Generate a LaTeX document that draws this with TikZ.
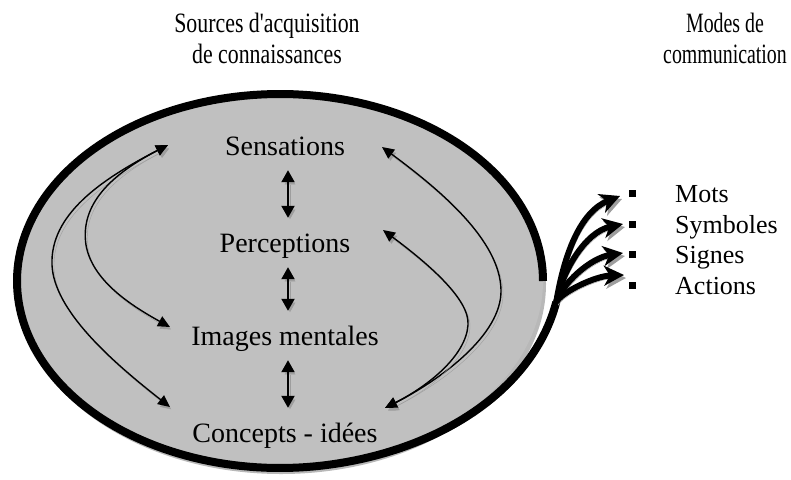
\documentclass[tikz,border=0pt]{standalone}
\usepackage{fontspec}
\setmainfont{Liberation Serif}
\newfontfamily\condfont[FakeStretch=0.78]{Liberation Serif}
\newfontfamily\narrowfont[FakeStretch=0.71]{Liberation Serif}
\usetikzlibrary{arrows.meta}
\definecolor{fillgray}{HTML}{C0C0C0}
\definecolor{shadowgray}{HTML}{9E9E9E}
\definecolor{lightshadow}{HTML}{B8B8B8}
\tikzset{
  shadowed/.style={preaction={draw=shadowgray, transform canvas={shift={(2pt,-3pt)}}}},
  lbl/.style={font=\fontsize{28}{32}\selectfont, inner sep=0pt, anchor=base, text height=19pt, text depth=6pt},
  title/.style={font=\condfont\fontsize{28}{31}\selectfont, align=center, inner sep=0pt},
  title2/.style={font=\narrowfont\fontsize{28}{31}\selectfont, align=center, inner sep=0pt},
  item/.style={font=\fontsize{26}{30}\selectfont, inner sep=0pt, anchor=base west},
  bullet/.style={fill=black, minimum size=7pt, inner sep=0pt},
  dbl/.style={line width=2pt, {Triangle[length=12pt,width=13pt]}-{Triangle[length=12pt,width=13pt]}, shorten <=9pt, shorten >=15pt, shadowed},
  thinarrow/.style={line width=1.4pt, {Triangle[length=12pt,width=11pt]}-{Triangle[length=12pt,width=11pt]}, shadowed},
  fan/.style={line width=6pt, -{Stealth[length=20pt,width=20pt,inset=6pt]}, shadowed},
  border/.style={line width=8pt, shadowed},
  declare function={dd(\t)=(\t>280)*14*((\t-280)/72)^2;}
}
\begin{document}
\begin{tikzpicture}[x=1pt,y=-1pt]
\useasboundingbox (0,0) rectangle (791,479);
% ellipse fill with shadow
\fill[lightshadow] (281,284) ellipse [x radius=265, y radius=190];
\fill[fillgray] (280,281) ellipse [x radius=263, y radius=187];
% spiral border
\draw[border] plot[domain=0:354, samples=200] ({280+(263+dd(\x))*cos(\x)}, {281-(187+dd(\x))*sin(\x)});
\coordinate (base) at ({280+(263+dd(354))*cos(354)}, {281-(187+dd(354))*sin(354)});

% titles
\node[title] (src) at (267,38) {Sources d'acquisition\\de connaissances};
\node[title2] (modes) at (725,38) {Modes de\\communication};

% inner labels
\node[lbl] (sens) at (285,155) {Sensations};
\node[lbl] (perc) at (285,252) {Perceptions};
\node[lbl] (imag) at (285,345) {Images mentales};
\node[lbl] (conc) at (285,442) {Concepts - idées};

\draw[dbl] ([xshift=3pt]sens.south) -- ([xshift=3pt]perc.north);
\draw[dbl] ([xshift=3pt]perc.south) -- ([xshift=3pt]imag.north);
\draw[dbl] ([xshift=3pt]imag.south) -- ([xshift=3pt]conc.north);

% curved arrow end points
\coordinate (sL) at (168,145);
\coordinate (iL) at (170,327);
\coordinate (cL) at (170,407);
\coordinate (sR) at (382,147);
\coordinate (pR) at (383,230);
\coordinate (cR) at (385,408);

\draw[thinarrow] (sL) .. controls (100,180) and (50,215) .. (52,265) .. controls (54,310) and (110,360) .. (cL);
\draw[thinarrow] (sL) .. controls (110,175) and (80,205) .. (86,245) .. controls (92,280) and (130,305) .. (iL);
\draw[thinarrow] (sR) .. controls (440,190) and (500,240) .. (501,290) .. controls (502,335) and (440,380) .. (cR);
\draw[thinarrow] (pR) .. controls (430,265) and (470,300) .. (468,325) .. controls (466,355) and (430,385) .. (cR);

% list
\node[bullet] (b1) at (632,193) {};
\node[bullet] (b2) at (632,224) {};
\node[bullet] (b3) at (632,254) {};
\node[bullet] (b4) at (632,285) {};
\node[item] (mots) at (675,202) {Mots};
\node[item] (symb) at (675,233) {Symboles};
\node[item] (sign) at (675,263) {Signes};
\node[item] (acti) at (675,294) {Actions};

% fan arrows
\coordinate (t1) at (620,196);
\coordinate (t2) at (623,224);
\coordinate (t3) at (623,253);
\coordinate (t4) at (624,275);
\draw[fan] (base) .. controls (564,255) and (580,212) .. (t1);
\draw[fan] (base) .. controls (562,272) and (585,232) .. (t2);
\draw[fan] (base) .. controls (562,284) and (590,258) .. (t3);
\draw[fan] (base) .. controls (562,292) and (595,276) .. (t4);
\end{tikzpicture}
\end{document}
